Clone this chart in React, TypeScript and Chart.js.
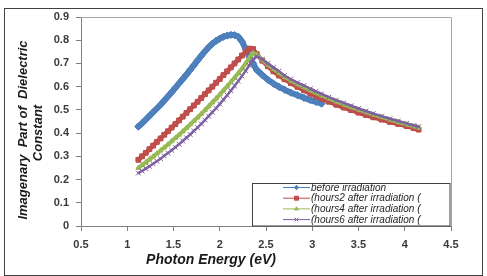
import React, { useEffect, useRef } from "react";
import Chart from "chart.js/auto";
import { drawPoint } from "chart.js/helpers";

// Photon energy (eV) of each sample
const energies = [
  1.12, 1.16, 1.2, 1.24, 1.28, 1.32, 1.36, 1.4, 1.44, 1.48,
  1.52, 1.56, 1.6, 1.64, 1.68, 1.72, 1.76, 1.8, 1.84, 1.88,
  1.92, 1.96, 2.0, 2.04, 2.08, 2.12, 2.16, 2.2, 2.24, 2.28,
  2.32, 2.36, 2.4, 2.46, 2.52, 2.58, 2.64, 2.7, 2.77, 2.84,
  2.91, 2.98, 3.04, 3.1, 3.18, 3.26, 3.34, 3.42, 3.5, 3.58,
  3.66, 3.75, 3.84, 3.93, 4.02, 4.1, 4.15,
];

// Imaginary part of the dielectric constant
const beforeIrradiation = [
  0.428, 0.442, 0.458, 0.474, 0.49, 0.506, 0.522, 0.54, 0.558, 0.576,
  0.595, 0.614, 0.633, 0.652, 0.672, 0.692, 0.713, 0.733, 0.752, 0.77,
  0.785, 0.797, 0.807, 0.815, 0.82, 0.823, 0.822, 0.815, 0.795, 0.762,
  0.728, 0.7, 0.672, 0.65, 0.63, 0.613, 0.599, 0.587, 0.574, 0.563,
  0.552, 0.542, 0.534, 0.527,
];
const after2h = [
  0.285, 0.3, 0.315, 0.331, 0.346, 0.362, 0.377, 0.393, 0.408, 0.424,
  0.439, 0.455, 0.471, 0.487, 0.503, 0.519, 0.535, 0.551, 0.568, 0.584,
  0.6, 0.617, 0.633, 0.65, 0.666, 0.683, 0.7, 0.717, 0.734, 0.75,
  0.764, 0.762, 0.74, 0.712, 0.688, 0.666, 0.648, 0.632, 0.615, 0.599,
  0.584, 0.57, 0.559, 0.548, 0.535, 0.522, 0.51, 0.499, 0.488, 0.478,
  0.468, 0.458, 0.448, 0.439, 0.43, 0.421, 0.415,
];
const after4h = [
  0.25, 0.262, 0.274, 0.287, 0.299, 0.312, 0.325, 0.338, 0.351, 0.365,
  0.379, 0.393, 0.407, 0.422, 0.437, 0.452, 0.467, 0.483, 0.499, 0.515,
  0.532, 0.549, 0.566, 0.584, 0.602, 0.62, 0.639, 0.658, 0.678, 0.7,
  0.724, 0.744, 0.738, 0.716, 0.695, 0.677, 0.66, 0.642, 0.626, 0.611,
  0.598, 0.584, 0.573, 0.562, 0.549, 0.536, 0.524, 0.512, 0.501, 0.49,
  0.48, 0.469, 0.458, 0.448, 0.438, 0.429, 0.424,
];
const after6h = [
  0.228, 0.237, 0.247, 0.257, 0.268, 0.279, 0.29, 0.302, 0.314, 0.326,
  0.339, 0.352, 0.366, 0.38, 0.394, 0.409, 0.424, 0.44, 0.456, 0.473,
  0.49, 0.507, 0.525, 0.544, 0.563, 0.583, 0.603, 0.624, 0.646, 0.668,
  0.692, 0.716, 0.73, 0.718, 0.7, 0.683, 0.667, 0.648, 0.632, 0.617,
  0.605, 0.591, 0.58, 0.569, 0.555, 0.542, 0.53, 0.518, 0.506, 0.495,
  0.484, 0.473, 0.462, 0.452, 0.442, 0.433, 0.428,
];

const seriesLabels = [
  "before irradiation",
  "(hours2 after irradiation (",
  "(hours4 after irradiation (",
  "(hours6 after irradiation (",
];

const xTicks = [0.5, 1, 1.5, 2, 2.5, 3, 3.5, 4, 4.5];
const yTicks = [0, 0.1, 0.2, 0.3, 0.4, 0.5, 0.6, 0.7, 0.8, 0.9];

const FONT = '"Liberation Sans", Arial, sans-serif';

const toPoints = (ys: number[]) => ys.map((y, i) => ({ x: energies[i], y }));

// per-series look: plot line width, marker, marker radius, legend marker radius
const styles = [
  { line: "#4A7EBB", fill: "#4F81BD", width: 6, marker: "rectRot", r: 3.6, lr: 2.2 },
  { line: "#BE4B48", fill: "#C0504D", width: 4.5, marker: "rect", r: 3.4, lr: 2.8 },
  { line: "#98B954", fill: "#9BBB59", width: 4, marker: "triangle", r: 2.8, lr: 2.2 },
  { line: "#7D60A0", fill: "#8064A2", width: 2.5, marker: "crossRot", r: 3.4, lr: 2.6 },
];

const framePlugin = {
  id: "frame",
  beforeDatasetsDraw(chart: any) {
    const { ctx, chartArea: a } = chart;
    ctx.save();
    ctx.strokeStyle = "#a6a6a6";
    ctx.lineWidth = 1;
    ctx.beginPath();
    ctx.moveTo(a.left, Math.round(a.top) + 0.5);
    ctx.lineTo(Math.round(a.right) + 0.5, Math.round(a.top) + 0.5);
    ctx.lineTo(Math.round(a.right) + 0.5, a.bottom);
    ctx.stroke();
    ctx.restore();
  },
  afterDraw(chart: any) {
    const { ctx, chartArea: a, width, height } = chart;
    ctx.save();
    // outer border
    ctx.strokeStyle = "#404040";
    ctx.lineWidth = 1;
    ctx.strokeRect(4.5, 8.5, width - 9, height - 9);

    // axis titles
    ctx.fillStyle = "#1a1a1a";
    ctx.font = `italic bold 14px ${FONT}`;
    ctx.textAlign = "center";
    ctx.textBaseline = "alphabetic";
    ctx.fillText("Photon Energy (eV)", 211, 264);

    ctx.font = `italic bold 13px ${FONT}`;
    ctx.save();
    ctx.translate(26.5, 130);
    ctx.rotate(-Math.PI / 2);
    ctx.fillText("Imagenary  Part of  Dielectric", 0, 0);
    ctx.restore();
    ctx.save();
    ctx.translate(41.5, 133);
    ctx.rotate(-Math.PI / 2);
    ctx.fillText("Constant", 0, 0);
    ctx.restore();

    // legend box
    const lx = 252.5;
    const ly = 183.5;
    const lw = Math.round(a.right) - 1 - lx;
    const lh = a.bottom - ly;
    ctx.fillStyle = "#ffffff";
    ctx.fillRect(lx, ly, lw, lh);
    ctx.strokeStyle = "#404040";
    ctx.strokeRect(lx, ly, lw, lh);

    ctx.font = `italic 10px ${FONT}`;
    ctx.textAlign = "left";
    ctx.textBaseline = "middle";
    chart.data.datasets.forEach((ds: any, i: number) => {
      const st = styles[i];
      const y = 187.5 + i * 10.7;
      ctx.strokeStyle = st.line;
      ctx.lineWidth = 1;
      ctx.beginPath();
      ctx.moveTo(283, y);
      ctx.lineTo(310, y);
      ctx.stroke();
      ctx.fillStyle = st.fill;
      ctx.strokeStyle = st.line;
      drawPoint(ctx, { pointStyle: st.marker, radius: st.lr, rotation: 0, borderWidth: 1 }, 296.5, y);
      ctx.fillStyle = "#262626";
      ctx.fillText(ds.label, 311, y + 0.5);
    });
    ctx.restore();
  },
};

export default function App() {
  const canvasRef = useRef<HTMLCanvasElement | null>(null);

  useEffect(() => {
    const canvas = canvasRef.current;
    if (!canvas) return;
    const series = [beforeIrradiation, after2h, after4h, after6h];
    const chart = new Chart(canvas, {
      type: "scatter",
      data: {
        datasets: series.map((ys, i) => ({
          label: seriesLabels[i],
          data: toPoints(ys),
          showLine: true,
          borderColor: styles[i].line,
          backgroundColor: styles[i].fill,
          borderWidth: styles[i].width,
          borderJoinStyle: "round" as const,
          borderCapStyle: "round" as const,
          pointStyle: styles[i].marker as any,
          pointRadius: styles[i].r,
          pointBorderColor: styles[i].line,
          pointBackgroundColor: styles[i].fill,
          pointBorderWidth: 1,
          order: 4 - i,
        })),
      },
      options: {
        responsive: false,
        animation: false,
        devicePixelRatio: 1,
        layout: { padding: { left: 0, top: 17, right: 36, bottom: 0 } },
        plugins: {
          legend: { display: false },
          tooltip: { enabled: false },
        },
        scales: {
          x: {
            type: "linear",
            min: 0.5,
            max: 4.5,
            afterFit: (s: any) => {
              s.height = 50;
            },
            afterBuildTicks: (s: any) => {
              s.ticks = xTicks.map((v) => ({ value: v }));
            },
            ticks: {
              font: { family: FONT, size: 11, weight: "bold" },
              color: "#3a3a3a",
              padding: 7,
              maxRotation: 0,
              callback: (v: any) => String(v),
            },
            grid: {
              drawOnChartArea: false,
              tickLength: 5,
              color: "#808080",
            },
            border: { color: "#808080" },
          },
          y: {
            type: "linear",
            min: 0,
            max: 0.9,
            afterFit: (s: any) => {
              s.width = 81;
            },
            afterBuildTicks: (s: any) => {
              s.ticks = yTicks.map((v) => ({ value: v }));
            },
            ticks: {
              font: { family: FONT, size: 11, weight: "bold" },
              color: "#3a3a3a",
              padding: 7,
              callback: (v: any) => (v === 0 ? "0" : Number(v).toFixed(1)),
            },
            grid: {
              drawOnChartArea: false,
              tickLength: 5,
              color: "#808080",
            },
            border: { color: "#808080" },
          },
        },
      },
      plugins: [framePlugin],
    });
    return () => chart.destroy();
  }, []);

  return (
    <div style={{ position: "fixed", left: 0, top: 0, width: 487, height: 276, background: "#fff" }}>
      <canvas ref={canvasRef} width={487} height={276} style={{ display: "block" }} />
    </div>
  );
}
